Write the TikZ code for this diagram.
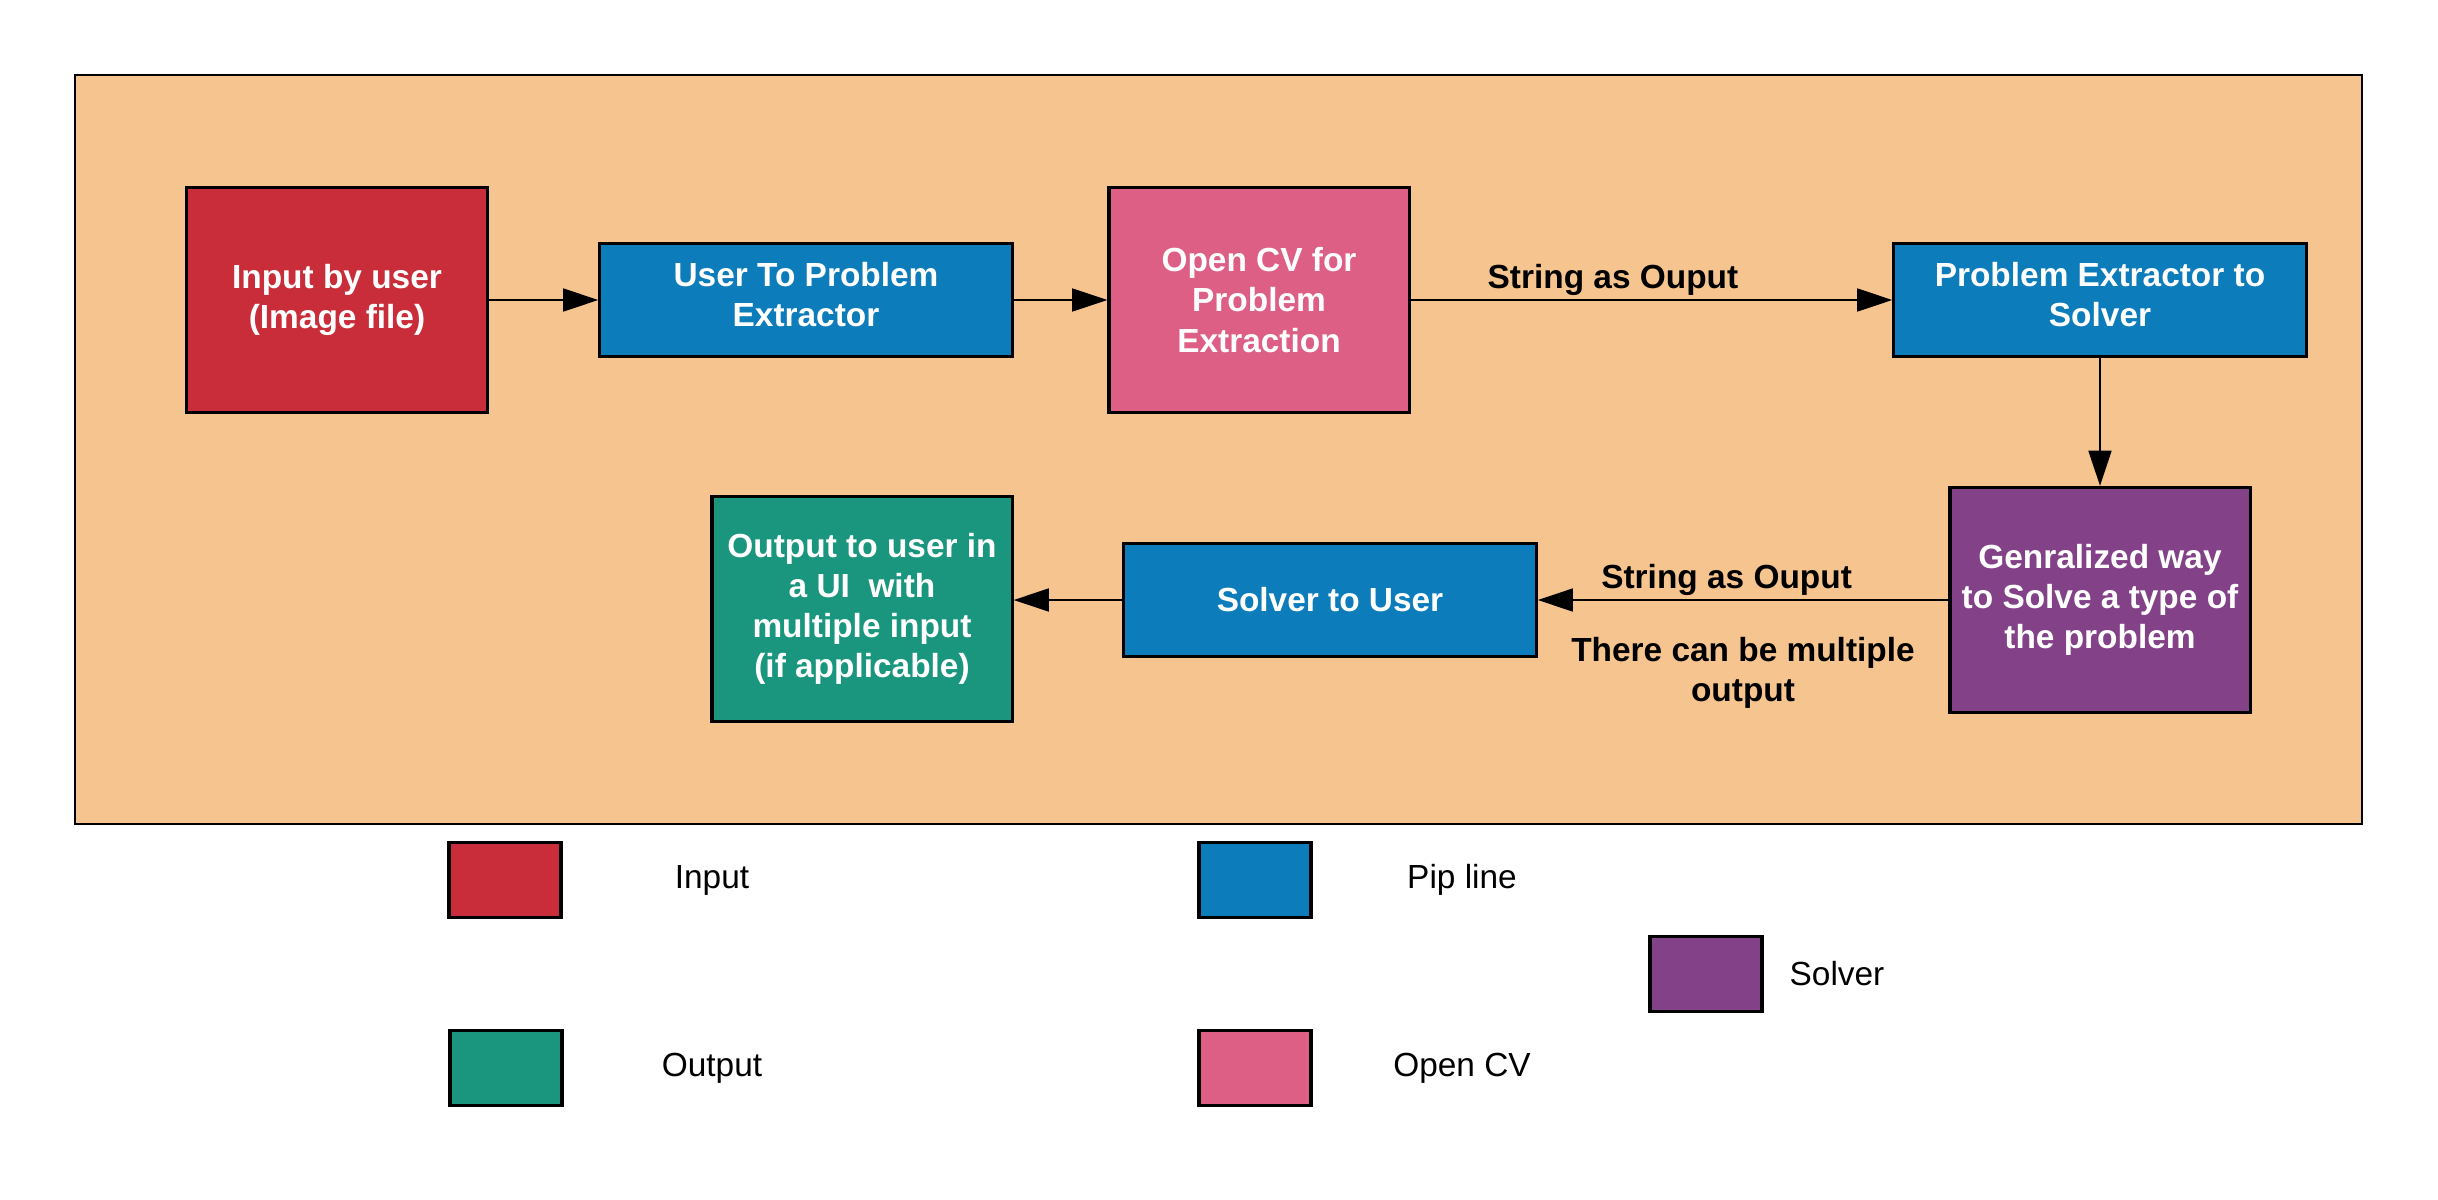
\documentclass[tikz,border=0pt]{standalone}
\usepackage{fontspec}
\setmainfont{Liberation Sans}
\usetikzlibrary{arrows.meta}
\definecolor{inred}{HTML}{C92D39}
\definecolor{pipeblue}{HTML}{0C7CBA}
\definecolor{cvpink}{HTML}{DE5F85}
\definecolor{solvpurple}{HTML}{834187}
\definecolor{outgreen}{HTML}{19967D}
\definecolor{peach}{HTML}{F5C48F}
\tikzset{
  block/.style   = {shape=rectangle, draw, line width=0.9pt, align=center,
                    text=white, font=\fontsize{9.5}{11.4}\selectfont\bfseries,
                    minimum width=3cm, minimum height=2.25cm, inner sep=2pt},
  pipe/.style    = {block, fill=pipeblue, minimum width=4.12cm, minimum height=1.13cm},
  arr/.style     = {draw, line width=0.6pt, -{Triangle[length=10pt,width=6.5pt]}},
  lbl/.style     = {font=\fontsize{9.5}{11.4}\selectfont\bfseries, align=center, inner sep=1pt},
  legbox/.style  = {draw, line width=0.9pt, minimum width=1.12cm, minimum height=0.75cm},
  legtext/.style = {font=\fontsize{9.5}{11.4}\selectfont}
}
\begin{document}
\begin{tikzpicture}[x=0.01cm, y=-0.01cm]
  \useasboundingbox (0,0) rectangle (2438,1200);
  \draw[fill=peach, line width=0.7pt] (75,75) rectangle (2362,824);

  \node[block, fill=inred] (input) at (337,300) {Input by user\\(Image file)};
  \node[pipe, text depth=3pt] (extract) at (806,300) {User To Problem\\Extractor};
  \node[block, fill=cvpink] (opencv) at (1259,300) {Open CV for\\Problem\\Extraction};
  \node[pipe, text depth=3pt] (tosolver) at (2100,300) {Problem Extractor to\\Solver};
  \node[block, fill=solvpurple] (solver) at (2100,600) {Genralized way\\to Solve a type of\\the problem};
  \node[pipe] (touser) at (1330,600) {Solver to User};
  \node[block, fill=outgreen] (output) at (862,609) {Output to user in\\a UI~ with\\multiple input\\(if applicable)};

  \draw[arr] (input) -- (extract);
  \draw[arr] (extract) -- (opencv);
  \draw[arr] (opencv) -- node[lbl, above, pos=0.42] (lbltop) {String as Ouput} (tosolver);
  \draw[arr] (tosolver) -- (solver);
  \draw[arr] (solver) -- node[lbl, above, pos=0.54] (lblbot) {String as Ouput} (touser);
  \draw[arr] (touser.west) -- (touser.west -| output.east);
  \node[lbl] (multi) at (1743,673) {There can be multiple\\output};

  \foreach \n/\c/\x/\y/\t/\tx in {in/inred/505/880/Input/712,
      pipe/pipeblue/1255/880/Pip line/1462, solv/solvpurple/1706/974/Solver/1837,
      out/outgreen/506/1068/Output/712, cv/cvpink/1255/1068/Open CV/1462}
  {
    \node[legbox, fill=\c] (leg\n) at (\x,\y) {};
    \node[legtext] (legt\n) at (\tx,\y) {\t};
  }
\end{tikzpicture}
\end{document}
